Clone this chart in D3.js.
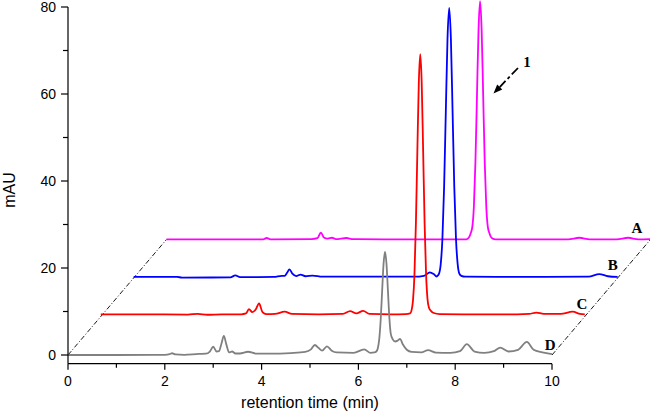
<!DOCTYPE html>
<html><head><meta charset="utf-8">
<script src="https://cdn.jsdelivr.net/npm/d3@7/dist/d3.min.js"></script>
<style>html,body{margin:0;padding:0;background:#fff;}svg{display:block;}</style>
</head><body>
<svg id="chart" width="650" height="413"></svg>
<script>
// ---------- data ----------
const xTicks = [0, 2, 4, 6, 8, 10];
const yTicks = [0, 20, 40, 60, 80];
const seriesNames = ["D", "C", "B", "A"];
const seriesColors = ["#808080", "#ff0000", "#0000ff", "#ff00ff"];

// retention time (min), signal (mAU)
const traceD = [[0,0],[1.0,0],[2.0,0.05],[2.1,0.2],[2.15,0.4],[2.22,0.15],[2.4,0.05],[2.7,0.25],[2.85,0.3],[2.93,0.8],[3.0,1.9],[3.07,0.8],[3.12,0.9],[3.17,2.6],[3.22,4.4],[3.27,2.5],[3.33,0.6],[3.39,0.8],[3.46,0.35],[3.55,0.35],[3.72,0.75],[3.9,0.3],[4.2,0.3],[4.6,0.45],[4.9,0.7],[5.02,1.3],[5.1,2.3],[5.18,1.6],[5.25,1.0],[5.35,2.0],[5.45,1.0],[5.55,0.6],[5.9,0.5],[6.12,1.3],[6.25,0.5],[6.33,0.6],[6.37,0.8],[6.40,1.5],[6.43,3.6],[6.46,8.0],[6.49,14.6],[6.52,21.0],[6.55,23.7],[6.58,21.0],[6.61,14.8],[6.64,8.5],[6.67,4.8],[6.71,3.6],[6.76,3.1],[6.81,3.3],[6.86,3.7],[6.92,2.4],[7.0,1.2],[7.1,0.7],[7.3,0.6],[7.44,1.1],[7.6,0.55],[7.9,0.5],[8.1,0.9],[8.24,2.5],[8.4,0.8],[8.6,0.5],[8.8,0.9],[8.93,1.7],[9.1,0.8],[9.3,1.2],[9.48,3.0],[9.62,1.2],[9.8,0.6],[10,0.2]];
const traceC = [[0,0.5],[1.0,0.5],[1.8,0.45],[2.0,0.6],[2.2,0.4],[2.5,0.5],[2.9,0.5],[3.0,0.7],[3.06,1.7],[3.13,1.0],[3.2,1.6],[3.27,3.0],[3.34,1.0],[3.42,0.55],[3.6,0.6],[3.8,1.1],[3.95,0.6],[4.5,0.5],[5.0,0.6],[5.15,1.25],[5.28,0.7],[5.42,1.3],[5.55,0.6],[6.0,0.5],[6.3,0.55],[6.39,0.7],[6.42,1.4],[6.45,3.7],[6.48,9.6],[6.51,21.4],[6.54,37.9],[6.57,53.7],[6.60,60.3],[6.63,53.7],[6.66,37.9],[6.69,21.4],[6.72,9.8],[6.75,4.0],[6.78,2.0],[6.82,1.3],[6.88,0.8],[7.0,0.55],[7.5,0.5],[8.0,0.5],[8.6,0.5],[8.85,0.6],[9.0,0.9],[9.15,0.6],[9.5,0.6],[9.75,1.1],[9.9,0.6],[10,0.5]];
const traceB = [[0,0.25],[0.9,0.25],[1.0,0.1],[2.0,0.15],[2.1,0.6],[2.2,0.2],[2.9,0.25],[3.06,0.5],[3.12,0.5],[3.17,1.2],[3.22,2.0],[3.28,1.0],[3.36,0.45],[3.45,0.8],[3.55,0.4],[3.7,0.55],[3.9,0.3],[5.0,0.3],[5.8,0.3],[6.0,0.5],[6.12,1.3],[6.2,0.9],[6.26,0.35],[6.275,0.45],[6.31,1.0],[6.345,3.2],[6.38,9.1],[6.415,21.0],[6.45,38.2],[6.485,55.0],[6.52,62.1],[6.555,55.0],[6.59,38.2],[6.625,21.0],[6.66,9.1],[6.695,3.2],[6.73,1.0],[6.77,0.5],[6.85,0.3],[7.5,0.25],[8.5,0.25],[9.4,0.3],[9.62,0.9],[9.8,0.4],[10,0.25]];
const traceA = [[0,0.05],[2.0,0.05],[2.07,0.35],[2.15,0.05],[3.0,0.1],[3.12,0.3],[3.19,1.56],[3.26,0.4],[3.33,0.2],[3.42,0.4],[3.5,0.1],[3.72,0.35],[3.85,0.1],[4.5,0.05],[6.2,0.05],[6.22,0.15],[6.256,0.6],[6.288,1.5],[6.32,2.9],[6.352,7.6],[6.384,17.8],[6.416,33.2],[6.448,48.3],[6.48,54.8],[6.512,48.3],[6.544,33.2],[6.576,17.8],[6.608,7.6],[6.64,2.9],[6.672,1.5],[6.704,0.6],[6.74,0.2],[6.8,0.05],[8.3,0.05],[8.53,0.4],[8.75,0.05],[9.3,0.05],[9.54,0.4],[9.75,0.05],[10,0.1]];
const traces = [traceD, traceC, traceB, traceA];

// ---------- layout ----------
const svg = d3.select("#chart");
const x = d3.scaleLinear().domain([0, 10]).range([68, 552]);
const y = d3.scaleLinear().domain([-2, 80]).range([363.7, 7]);
// waterfall offset per trace (in data units)
const offT = 0.678, offV = 8.85;
const axisFont = "'Liberation Sans', Arial, sans-serif";
const serif = "'Liberation Serif', 'Times New Roman', serif";

// dash-dot diagonals
const nS = traces.length - 1;
const diag = [
  [[0, 0], [nS * offT, nS * offV]],
  [[10, 0], [10 + nS * offT, nS * offV]]
];
diag.forEach(seg => {
  svg.append("line")
    .attr("x1", x(seg[0][0])).attr("y1", y(seg[0][1]))
    .attr("x2", x(seg[1][0])).attr("y2", y(seg[1][1]))
    .attr("stroke", "#000").attr("stroke-width", 0.9)
    .attr("stroke-dasharray", "5,2,1,2");
});

// traces (back to front)
[3, 2, 1, 0].forEach(i => {
  const line = d3.line()
    .x(d => x(d[0] + i * offT))
    .y(d => y(d[1] + i * offV))
    .curve(d3.curveMonotoneX);
  svg.append("path")
    .datum(traces[i])
    .attr("d", line)
    .attr("fill", "none")
    .attr("stroke", seriesColors[i])
    .attr("stroke-width", 1.8)
    .attr("stroke-linejoin", "round");
});

// series labels
const labelPos = [[-0.04, 1.15], [-0.06, 1.7], [-0.1, 1.85], [-0.28, 1.5]];
seriesNames.forEach((n, i) => {
  svg.append("text")
    .attr("x", x(10 + i * offT + labelPos[i][0]))
    .attr("y", y(i * offV + labelPos[i][1]))
    .attr("text-anchor", "middle")
    .attr("font-family", serif).attr("font-weight", "bold")
    .attr("font-size", 15).attr("fill", "#000")
    .text(n);
});

// axes
const xAxis = svg.append("g").attr("transform", `translate(0,${y(-2)})`);
xAxis.append("line").attr("x1", x(0)).attr("x2", x(10)).attr("stroke", "#000").attr("stroke-width", 1.2);
d3.range(0, 11, 1).forEach(t => {
  const major = t % 2 === 0;
  xAxis.append("line").attr("x1", x(t)).attr("x2", x(t))
    .attr("y1", 0).attr("y2", major ? 6 : 4)
    .attr("stroke", "#000").attr("stroke-width", 1.2);
});
xTicks.forEach(t => {
  xAxis.append("text").attr("x", x(t)).attr("y", 22)
    .attr("text-anchor", "middle").attr("font-family", axisFont)
    .attr("font-size", 14).attr("fill", "#000").text(t);
});

const yAxis = svg.append("g").attr("transform", `translate(${x(0)},0)`);
yAxis.append("line").attr("y1", y(-2)).attr("y2", y(80)).attr("stroke", "#000").attr("stroke-width", 1.2);
d3.range(0, 81, 10).forEach(v => {
  const major = v % 20 === 0;
  yAxis.append("line").attr("x1", 0).attr("x2", major ? -7 : -5)
    .attr("y1", y(v)).attr("y2", y(v))
    .attr("stroke", "#000").attr("stroke-width", 1.2);
});
yTicks.forEach(v => {
  yAxis.append("text").attr("x", -12).attr("y", y(v)).attr("dy", "0.35em")
    .attr("text-anchor", "end").attr("font-family", axisFont)
    .attr("font-size", 14).attr("fill", "#000").text(v);
});

// axis titles
svg.append("text").attr("x", (x(0) + x(10)) / 2).attr("y", 408)
  .attr("text-anchor", "middle").attr("font-family", axisFont)
  .attr("font-size", 16).attr("fill", "#000").text("retention time (min)");
svg.append("text").attr("transform", `translate(15,${(y(0) + y(80)) / 2 + 9}) rotate(-90)`)
  .attr("text-anchor", "middle").attr("font-family", axisFont)
  .attr("font-size", 16).attr("fill", "#000").text("mAU");

// annotation arrow "1"
const a0 = [518, 68], a1 = [493.5, 93.5];
const ang = Math.atan2(a1[1] - a0[1], a1[0] - a0[0]);
const hl = 9, hw = 3.5;
const bx = a1[0] - hl * Math.cos(ang), by = a1[1] - hl * Math.sin(ang);
svg.append("line").attr("x1", a0[0]).attr("y1", a0[1]).attr("x2", bx).attr("y2", by)
  .attr("stroke", "#000").attr("stroke-width", 1.8).attr("stroke-dasharray", "9,3,3,3");
svg.append("path")
  .attr("d", `M${a1[0]},${a1[1]}L${bx - hw * Math.sin(ang)},${by + hw * Math.cos(ang)}L${bx + hw * Math.sin(ang)},${by - hw * Math.cos(ang)}Z`)
  .attr("fill", "#000");
svg.append("text").attr("x", 527).attr("y", 67)
  .attr("text-anchor", "middle").attr("font-family", serif).attr("font-weight", "bold")
  .attr("font-size", 15).attr("fill", "#000").text("1");
</script>
</body></html>
